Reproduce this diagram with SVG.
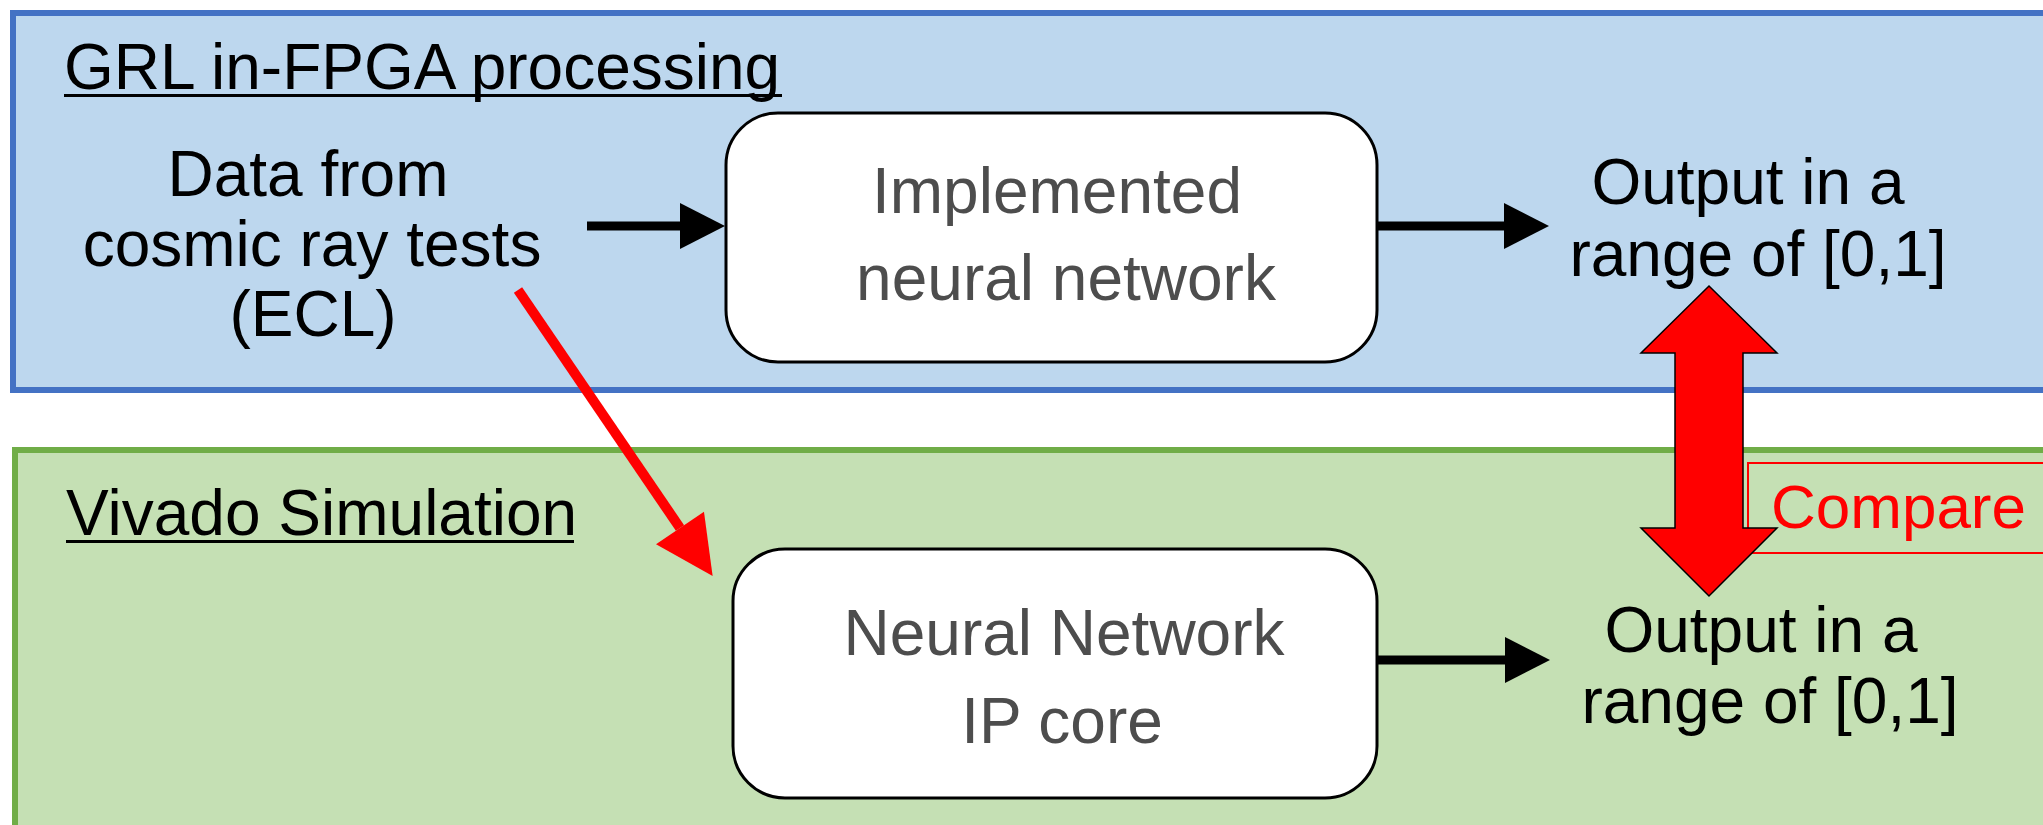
<svg xmlns="http://www.w3.org/2000/svg" width="2043" height="825" viewBox="0 0 2043 825">
<style>
.t{font-family:"Liberation Sans",Arial,sans-serif;font-size:64px;fill:#000}
.c{text-anchor:middle}
.g{fill:#4d4d4d}
.node{fill:#fff;stroke:#000;stroke-width:3}
.blk{stroke:#000;stroke-width:9;fill:none}
.red{stroke:#f00;stroke-width:10;fill:none}
</style>
<defs>
<marker id="ah" markerUnits="userSpaceOnUse" markerWidth="46" markerHeight="47" refX="0" refY="23" orient="auto" overflow="visible">
<path d="M0,0 L45,23 L0,46 z" fill="#000"/>
</marker>
<marker id="ahr" markerUnits="userSpaceOnUse" markerWidth="60" markerHeight="60" refX="0" refY="29" orient="auto" overflow="visible">
<path d="M0,0 L58,29 L0,58 z" fill="#f00"/>
</marker>
</defs>
<g id="panel-grl">
<rect x="13" y="13" width="2100" height="377" fill="#bdd7ee" stroke="#4472c4" stroke-width="6"/>
<text class="t" x="64" y="89">GRL in-FPGA processing</text>
<rect x="64" y="94" width="718" height="3" fill="#000"/>
</g>
<g id="panel-vivado">
<rect x="15" y="450" width="2100" height="420" fill="#c5e0b4" stroke="#70ad47" stroke-width="6"/>
<text class="t" x="66" y="535">Vivado Simulation</text>
<rect x="66" y="540" width="508" height="3" fill="#000"/>
</g>
<g id="data">
<text class="t c" x="308" y="196">Data from</text>
<text class="t c" x="312" y="266">cosmic ray tests</text>
<text class="t c" x="313" y="336">(ECL)</text>
</g>
<g id="nn-impl">
<rect class="node" x="726" y="113" width="651" height="249" rx="52" ry="52"/>
<text class="t c g" x="1057" y="213">Implemented</text>
<text class="t c g" x="1066" y="300">neural network</text>
</g>
<g id="nn-ip">
<rect class="node" x="733" y="549" width="644" height="249" rx="52" ry="52"/>
<text class="t c g" x="1064" y="655">Neural Network</text>
<text class="t c g" x="1062" y="743">IP core</text>
</g>
<g id="out-grl">
<text class="t c" x="1748" y="204">Output in a</text>
<text class="t c" x="1758" y="276">range of [0,1]</text>
</g>
<g id="out-vivado">
<text class="t c" x="1761" y="652">Output in a</text>
<text class="t c" x="1770" y="723">range of [0,1]</text>
</g>
<g id="compare">
<rect x="1748" y="463" width="400" height="90" fill="none" stroke="#f00" stroke-width="2"/>
<text class="t" x="1771" y="528" style="font-size:62px;fill:#f00">Compare</text>
</g>
<g id="connectors">
<line class="blk" x1="587" y1="226" x2="680" y2="226" marker-end="url(#ah)"/>
<line class="blk" x1="1377" y1="226" x2="1504" y2="226" marker-end="url(#ah)"/>
<line class="blk" x1="1377" y1="660" x2="1505" y2="660" marker-end="url(#ah)"/>
<line class="red" x1="518" y1="290" x2="680" y2="528" marker-end="url(#ahr)"/>
<polygon points="1709,286 1777,353 1743,353 1743,528 1777,528 1709,596 1641,528 1675,528 1675,353 1641,353" fill="#f00" stroke="#000" stroke-width="1.5"/>
</g>
</svg>
